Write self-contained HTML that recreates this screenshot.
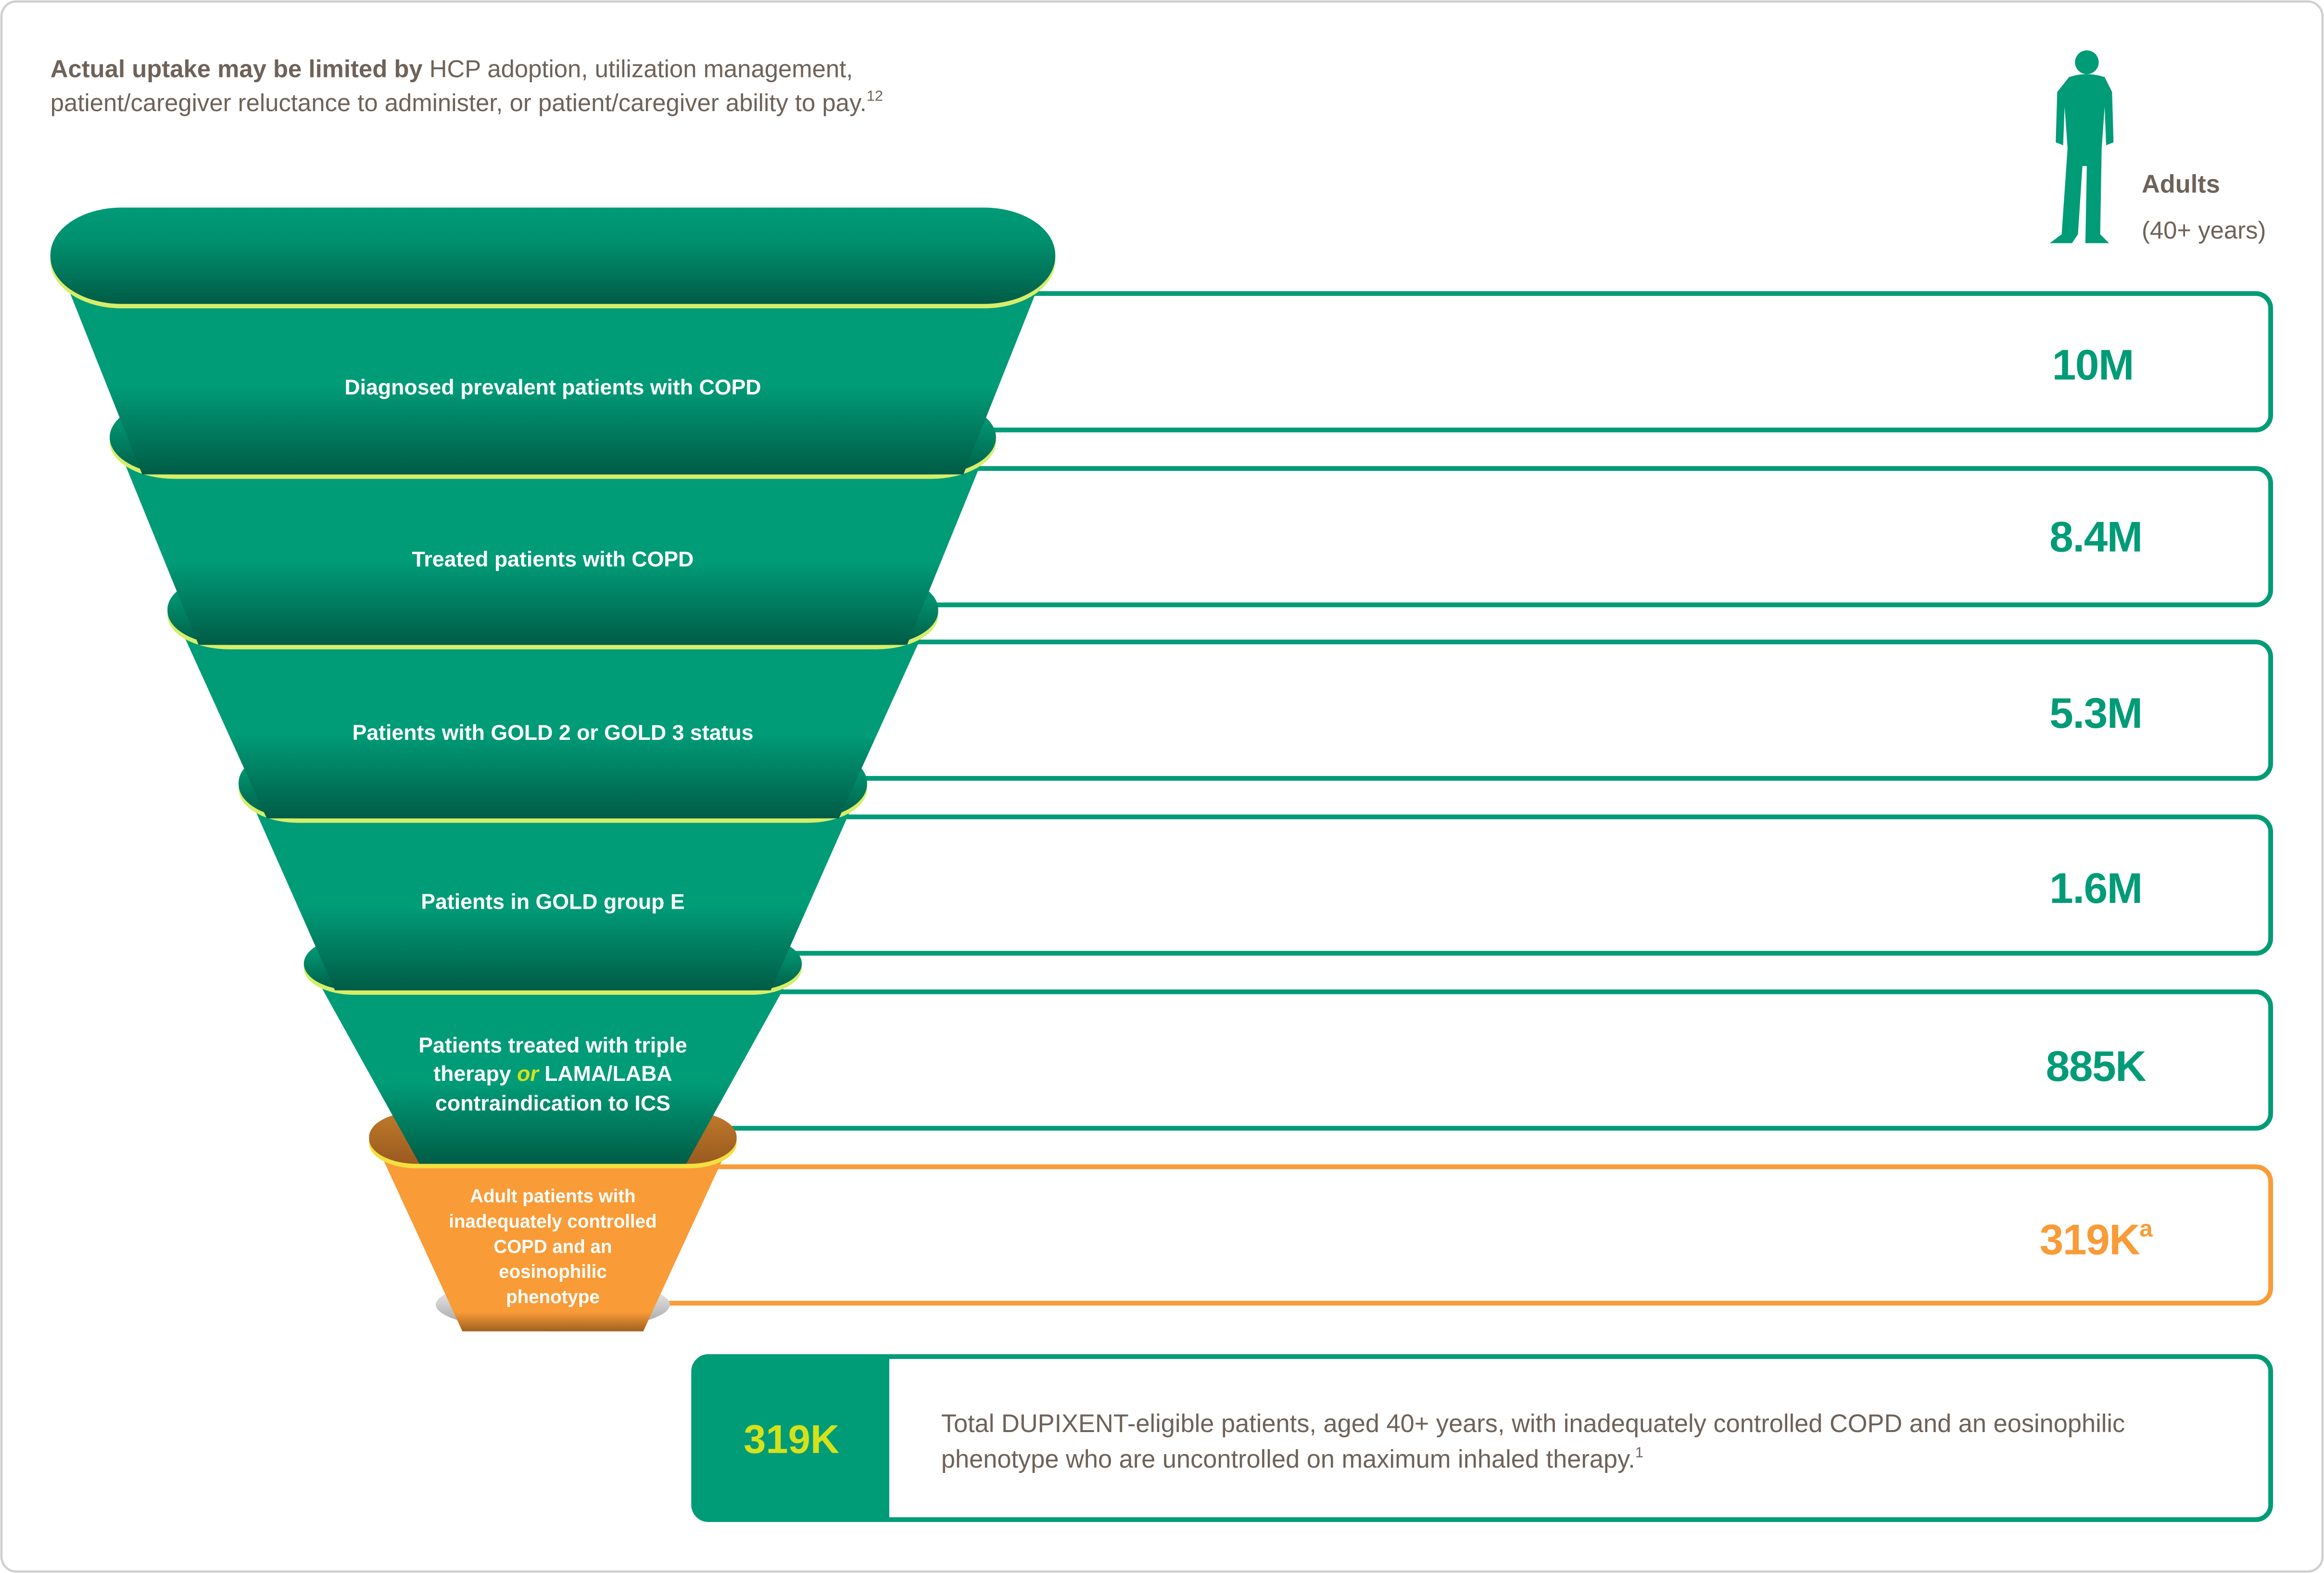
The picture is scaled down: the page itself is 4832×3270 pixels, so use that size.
<!DOCTYPE html>
<html><head><meta charset="utf-8"><style>
html,body{margin:0;padding:0;background:#fff}
svg{display:block}
text{font-family:"Liberation Sans",sans-serif}
</style></head><body>
<svg width="4832" height="3270" viewBox="0 0 1568 1061" preserveAspectRatio="none" xmlns="http://www.w3.org/2000/svg">
<defs>
<linearGradient id="pill" x1="0" y1="0" x2="0" y2="1">
<stop offset="0" stop-color="#009b77"/><stop offset="0.35" stop-color="#00906e"/><stop offset="1" stop-color="#005c46"/>
</linearGradient>
<linearGradient id="body" x1="0" y1="0" x2="0" y2="1">
<stop offset="0" stop-color="#009b77"/><stop offset="0.6" stop-color="#009b77"/><stop offset="1" stop-color="#005c46"/>
</linearGradient>
<linearGradient id="opill" x1="0" y1="0" x2="0" y2="1">
<stop offset="0" stop-color="#c07a2a"/><stop offset="1" stop-color="#9a5a20"/>
</linearGradient>
<linearGradient id="obody" x1="0" y1="0" x2="0" y2="1">
<stop offset="0" stop-color="#f99b37"/><stop offset="0.9" stop-color="#f99b37"/><stop offset="1" stop-color="#a0601f"/>
</linearGradient>
<linearGradient id="shadow" x1="0" y1="0" x2="0" y2="1">
<stop offset="0" stop-color="#ffffff"/><stop offset="1" stop-color="#9a9a9a"/>
</linearGradient>
</defs>
<rect x="1" y="1" width="1566" height="1059" rx="10" fill="#fff" stroke="#cfcfcf" stroke-width="1.5"/>

<text x="34" y="52" font-size="16.5" fill="#6e6259"><tspan font-weight="bold">Actual uptake may be limited by</tspan> HCP adoption, utilization management,</text>
<text x="34" y="75" font-size="16.5" fill="#6e6259">patient/caregiver reluctance to administer, or patient/caregiver ability to pay.<tspan font-size="10" dy="-7">12</tspan></text>

<g fill="#009b77">
<circle cx="1408" cy="42" r="8"/>
<path d="M1396,52 Q1408,48 1420,52 L1425,62 L1426,96 L1421,98 L1420,72 L1418,100 L1417,158 L1423,164 L1407,164 L1408,112 L1405,112 L1402,158 L1398,164 L1383,164 L1391,158 L1395,100 L1393,72 L1392,98 L1387,96 L1388,62 Z"/>
</g>
<text x="1445" y="130" font-size="17" font-weight="bold" fill="#6e6259">Adults</text>
<text x="1445" y="161" font-size="16.5" fill="#6e6259">(40+ years)</text>

<g fill="none" stroke-width="3.2">
<path d="M560,198 H1522 A10,10 0 0 1 1532,208 V280 A10,10 0 0 1 1522,290 H560" stroke="#009b77"/>
<path d="M560,316 H1522 A10,10 0 0 1 1532,326 V398 A10,10 0 0 1 1522,408 H560" stroke="#009b77"/>
<path d="M560,433 H1522 A10,10 0 0 1 1532,443 V515 A10,10 0 0 1 1522,525 H560" stroke="#009b77"/>
<path d="M500,551 H1522 A10,10 0 0 1 1532,561 V633 A10,10 0 0 1 1522,643 H500" stroke="#009b77"/>
<path d="M460,669 H1522 A10,10 0 0 1 1532,679 V751 A10,10 0 0 1 1522,761 H460" stroke="#009b77"/>
<path d="M400,787 H1522 A10,10 0 0 1 1532,797 V869 A10,10 0 0 1 1522,879 H400" stroke="#f99b37"/>
</g>
<g font-size="29" font-weight="bold" text-anchor="middle" fill="#009b77" style="letter-spacing:-0.5px">
<text x="1412" y="256">10M</text>
<text x="1414" y="372">8.4M</text>
<text x="1414" y="491">5.3M</text>
<text x="1414" y="609">1.6M</text>
<text x="1414" y="729">885K</text>
<text x="1414" y="846" fill="#f99b37">319K<tspan font-size="16" dy="-12">a</tspan></text>
</g>

<ellipse cx="373" cy="880" rx="79" ry="18" fill="url(#shadow)"/>
<path d="M252,768 L494,768 L434,898 L312,898 Z" fill="url(#obody)"/>
<rect x="249" y="753" width="248" height="35" rx="32" ry="17" fill="#f2e040"/>
<rect x="249" y="750" width="248" height="35" rx="32" ry="17" fill="url(#opill)"/>

<path d="M208,650 L538,650 L463,785 L283,785 Z" fill="url(#body)"/>
<rect x="205" y="635" width="336" height="36" rx="34" ry="18" fill="#d5ee6a"/>
<rect x="205" y="632" width="336" height="36" rx="34" ry="18" fill="url(#pill)"/>

<path d="M164,528 L582,528 L520,668 L226,668 Z" fill="url(#body)"/>
<rect x="161" y="508" width="424" height="47" rx="40" ry="23" fill="#d5ee6a"/>
<rect x="161" y="505" width="424" height="47" rx="40" ry="23" fill="url(#pill)"/>

<path d="M116,411 L630,411 L566,552 L180,552 Z" fill="url(#body)"/>
<rect x="113" y="391" width="520" height="47" rx="42" ry="23" fill="#d5ee6a"/>
<rect x="113" y="388" width="520" height="47" rx="42" ry="23" fill="url(#pill)"/>

<path d="M77,295 L669,295 L612,435 L134,435 Z" fill="url(#body)"/>
<rect x="74" y="273" width="598" height="50" rx="44" ry="25" fill="#d5ee6a"/>
<rect x="74" y="270" width="598" height="50" rx="44" ry="25" fill="url(#pill)"/>

<path d="M37,172 L709,172 L650,320 L96,320 Z" fill="url(#body)"/>
<rect x="34" y="143" width="678" height="65" rx="48" ry="32" fill="#d5ee6a"/>
<rect x="34" y="140" width="678" height="65" rx="48" ry="32" fill="url(#pill)"/>

<g font-size="12.5" font-weight="bold" fill="#fff" text-anchor="middle">
<text x="373" y="811">Adult patients with</text>
<text x="373" y="828">inadequately controlled</text>
<text x="373" y="845">COPD and an</text>
<text x="373" y="862">eosinophilic</text>
<text x="373" y="879">phenotype</text>
</g>
<g font-size="14.5" font-weight="bold" fill="#fff" text-anchor="middle">
<text x="373" y="710">Patients treated with triple</text>
<text x="373" y="729">therapy <tspan fill="#d4e21b" font-style="italic">or</tspan>  LAMA/LABA</text>
<text x="373" y="749">contraindication to ICS</text>
<text x="373" y="613">Patients in GOLD group E</text>
<text x="373" y="499">Patients with GOLD 2 or GOLD 3 status</text>
<text x="373" y="382">Treated patients with COPD</text>
<text x="373" y="266">Diagnosed prevalent patients with COPD</text>
</g>

<rect x="468" y="915" width="1064" height="110" rx="10" fill="#fff" stroke="#009b77" stroke-width="3.2"/>
<path d="M478,915 H600 V1025 H478 A10,10 0 0 1 468,1015 V925 A10,10 0 0 1 478,915 Z" fill="#009b77"/>
<text x="534" y="980" font-size="27" font-weight="bold" fill="#d4e21b" text-anchor="middle">319K</text>
<text x="635" y="966" font-size="17" fill="#6e6259">Total DUPIXENT-eligible patients, aged 40+ years, with inadequately controlled COPD and an eosinophilic</text>
<text x="635" y="990" font-size="17" fill="#6e6259">phenotype who are uncontrolled on maximum inhaled therapy.<tspan font-size="10" dy="-7">1</tspan></text>
</svg>
</body></html>
